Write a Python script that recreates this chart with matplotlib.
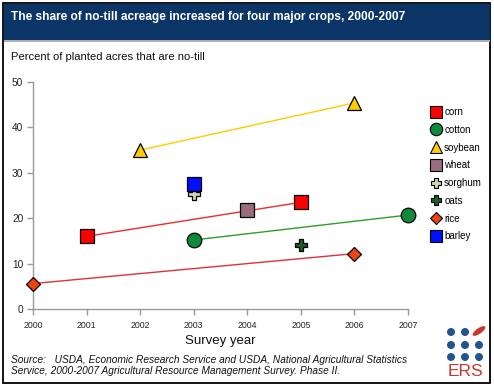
from matplotlib import pyplot as plt
from matplotlib import patches
from matplotlib.lines import Line2D

# data (percent of planted acres that are no-till)
crops = ["corn", "cotton", "soybean", "wheat", "sorghum", "oats", "rice", "barley"]
years = {
    "corn": [2001, 2005],
    "cotton": [2003, 2007],
    "soybean": [2002, 2006],
    "wheat": [2004],
    "sorghum": [2003],
    "oats": [2005],
    "rice": [2000, 2006],
    "barley": [2003],
}
values = {
    "corn": [16.0, 23.5],
    "cotton": [15.2, 20.7],
    "soybean": [35.0, 45.4],
    "wheat": [21.8],
    "sorghum": [25.3],
    "oats": [14.0],
    "rice": [5.6, 12.2],
    "barley": [27.6],
}
x_ticks = [2000, 2001, 2002, 2003, 2004, 2005, 2006, 2007]
y_ticks = [0, 10, 20, 30, 40, 50]

# marker styles
style = {
    "corn": dict(marker="s", color="#ff0000", ms=10, line="#ee2b2b"),
    "cotton": dict(marker="o", color="#0f8a3c", ms=10.5, line="#2aa02a"),
    "soybean": dict(marker="^", color="#ffcc00", ms=10, line="#ffcc00"),
    "wheat": dict(marker="s", color="#9b6b80", ms=10, line=None),
    "sorghum": dict(marker="P", color="#d2d2b4", ms=8.5, line=None),
    "oats": dict(marker="P", color="#1e5a2a", ms=8.5, line=None),
    "rice": dict(marker="D", color="#ee4411", ms=7, line="#e0303a"),
    "barley": dict(marker="s", color="#0010ff", ms=10, line=None),
}

W, H = 494, 388
plt.rcParams["font.family"] = ["Liberation Sans", "DejaVu Sans"]
fig = plt.figure(figsize=(W / 100, H / 100), dpi=100)


def fx(px):
    return px / W


def fy(py):
    return 1 - py / H


# frame and header
fig.patches.append(patches.Rectangle((fx(3), fy(383)), fx(487), 380 / H, transform=fig.transFigure,
                                     fill=False, ec="black", lw=1.3))
fig.patches.append(patches.Rectangle((fx(4), fy(42)), fx(486), 2 / H, transform=fig.transFigure,
                                     fc="#b0b0b0", ec="none"))
fig.patches.append(patches.Rectangle((fx(4), fy(40)), fx(486), 36 / H, transform=fig.transFigure,
                                     fc="#0b3567", ec="none"))
fig.text(fx(11), fy(17), "The share of no-till acreage increased for four major crops, 2000-2007",
         color="white", fontsize=8.6, fontweight="bold", va="center", ha="left")
fig.text(fx(11), fy(57), "Percent of planted acres that are no-till", fontsize=8.1, va="center",
         color="#111111")

ax = fig.add_axes([fx(33), fy(309), fx(375), 227 / H])
handles = []
for c in crops:
    s = style[c]
    if s["line"] and len(years[c]) > 1:
        ax.plot(years[c], values[c], color=s["line"], lw=1, zorder=2)
    ax.plot(years[c], values[c], ls="none", marker=s["marker"], ms=s["ms"], mfc=s["color"],
            mec="black", mew=0.9, zorder=3, clip_on=False)
    handles.append(Line2D([], [], ls="none", marker=s["marker"], ms=s["ms"] * 0.85,
                          mfc=s["color"], mec="black", mew=0.8, label=c))

ax.set_xlim(2000, 2007)
ax.set_ylim(0, 50)
ax.set_xticks(x_ticks)
ax.set_yticks(y_ticks)
for sp in ["top", "right"]:
    ax.spines[sp].set_visible(False)
for sp in ["left", "bottom"]:
    ax.spines[sp].set_color("#999999")
    ax.spines[sp].set_linewidth(1)
ax.tick_params(axis="both", colors="#999999", length=4, width=1, labelcolor="#222222")
ax.tick_params(axis="x", labelsize=6.3, pad=5)
ax.tick_params(axis="y", labelsize=7.3, pad=3)
ax.set_xlabel("Survey year", fontsize=9.5, labelpad=3, color="#111111")

fig.legend(handles=handles, loc="upper left", bbox_to_anchor=(fx(431), fy(107)), frameon=False,
           fontsize=7, handlelength=1.0, handletextpad=0.35, labelspacing=0.8,
           borderaxespad=0, borderpad=0)

fig.text(fx(11), fy(360), "Source:   USDA, Economic Research Service and USDA, National Agricultural Statistics",
         fontsize=7.3, style="italic", va="center", color="#111111")
fig.text(fx(11), fy(371), "Service, 2000-2007 Agricultural Resource Management Survey. Phase II.",
         fontsize=7.3, style="italic", va="center", color="#111111")

# ERS logo (drawn in inches so shapes keep their aspect)
inch = fig.dpi_scale_trans
for i, yy in enumerate([332, 345, 357]):
    for j, xx in enumerate([451, 465, 479]):
        if i == 0 and j == 2:
            fig.patches.append(patches.Ellipse((xx / 100, (H - yy + 1) / 100), 0.15, 0.055, angle=35,
                                               transform=inch, fc="#c8372d", ec="none"))
        else:
            fig.patches.append(patches.Circle((xx / 100, (H - yy) / 100), 0.04,
                                              transform=inch, fc="#20558f", ec="none"))
fig.text(fx(465), fy(371), "ERS", fontsize=12.5, color="#c8372d", ha="center", va="center")

fig.savefig("out.png", dpi=100)
